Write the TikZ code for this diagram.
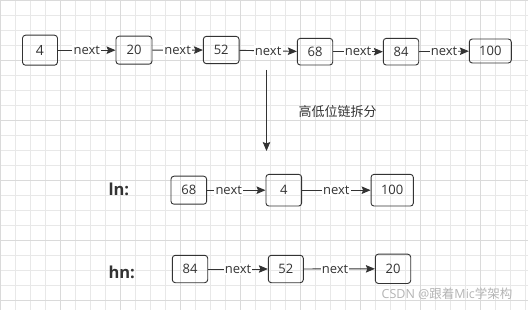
\documentclass[tikz,border=0pt]{standalone}
\usepackage{fontspec}
\setmainfont{Open Sans}
\newfontfamily\cjk{Noto Sans CJK SC}
\usetikzlibrary{arrows.meta}
\definecolor{ink}{HTML}{333333}
\definecolor{gridminor}{HTML}{E8E8E8}
\definecolor{gridmajor}{HTML}{DADADA}
\definecolor{wmark}{HTML}{B4B4B4}
\tikzset{
  nbox/.style={draw=ink, line width=0.9pt, rounded corners=3pt, inner sep=0pt,
    text=ink, font=\fontsize{13}{13}\selectfont},
  link/.style={draw=ink, line width=0.9pt, -{Stealth[length=9pt,width=7.5pt,inset=1.5pt]}},
  lbl/.style={fill=white, inner sep=1.2pt, text=ink, font=\fontsize{13}{13}\selectfont},
  rowlbl/.style={anchor=base west, text=ink, font=\bfseries\fontsize{16.5}{16.5}\selectfont},
}
\begin{document}
\begin{tikzpicture}[x=1pt,y=-1pt]
\fill[white] (0,0) rectangle (528,310);
\useasboundingbox (0,0) rectangle (528,310);
% grid
\foreach \i in {0,...,35} {\draw[gridminor, line width=0.8pt] (0.7+15*\i,0) -- (0.7+15*\i,310);}
\foreach \i in {0,...,20} {\draw[gridminor, line width=0.8pt] (0,0.7+15*\i) -- (528,0.7+15*\i);}
\foreach \i in {0,...,8} {\draw[gridmajor, line width=0.8pt] (0.7+60*\i,0) -- (0.7+60*\i,310);}
\foreach \i in {0,...,5} {\draw[gridmajor, line width=0.8pt] (0,0.7+60*\i) -- (528,0.7+60*\i);}

% top row
\node[nbox, minimum width=35pt, minimum height=30pt, font=\fontsize{14}{14}\selectfont] (t4) at (40,50.2) {4};
\node[nbox, minimum width=36pt, minimum height=28pt] (t20) at (134,50.2) {20};
\node[nbox, minimum width=35.7pt, minimum height=27.3pt] (t52) at (221.2,50) {52};
\node[nbox, minimum width=35.4pt, minimum height=26.7pt] (t68) at (315,51.7) {68};
\node[nbox, minimum width=35.4pt, minimum height=26.7pt] (t84) at (401,51.7) {84};
\node[nbox, minimum width=42pt, minimum height=24pt] (t100) at (490.3,51) {100};
\draw[link] (t4) -- node[lbl] {next} (t20);
\draw[link] (t20) -- node[lbl] {next} (t52);
\draw[link] (t52) -- node[lbl] {next} (t68);
\draw[link] (t68) -- node[lbl] {next} (t84);
\draw[link] (t84) -- node[lbl] {next} (t100);

% split arrow
\coordinate (splitstart) at (266.5,70);
\coordinate (splitend) at (266.5,151);
\draw[link] (splitstart) -- (splitend);
\node[text=ink, font=\cjk\fontsize{13}{13}\selectfont] (splitlbl) at (337.5,111.5) {高低位链拆分};

% ln row
\node[rowlbl] (lnlbl) at (105,196) {ln:};
\node[nbox, minimum width=35.7pt, minimum height=28pt] (l68) at (188.8,190.2) {68};
\node[nbox, minimum width=35.7pt, minimum height=31.7pt] (l4) at (283.8,190.2) {4};
\node[nbox, minimum width=42.3pt, minimum height=31.7pt] (l100) at (392.2,190.2) {100};
\draw[link] (l68) -- node[lbl, pos=0.37] {next} (l4);
\draw[link] (l4) -- node[lbl] {next} (l100);

% hn row
\node[rowlbl] (hnlbl) at (105,278.3) {hn:};
\node[nbox, minimum width=35.4pt, minimum height=27.4pt] (h84) at (190,269) {84};
\node[nbox, minimum width=35pt, minimum height=27.4pt] (h52) at (285.8,269) {52};
\node[nbox, minimum width=35.4pt, minimum height=29.3pt] (h20) at (393,268.8) {20};
\draw[link] (h84) -- node[lbl] {next} (h52);
\draw[link] (h52) -- node[lbl, pos=0.44] {next} (h20);

% watermark
\node[text=wmark, font=\fontsize{12.5}{12.5}\selectfont, anchor=west, inner sep=0pt] (wm) at (381.5,294) {CSDN @{\cjk 跟着}Mic{\cjk 学架构}};
\end{tikzpicture}
\end{document}
